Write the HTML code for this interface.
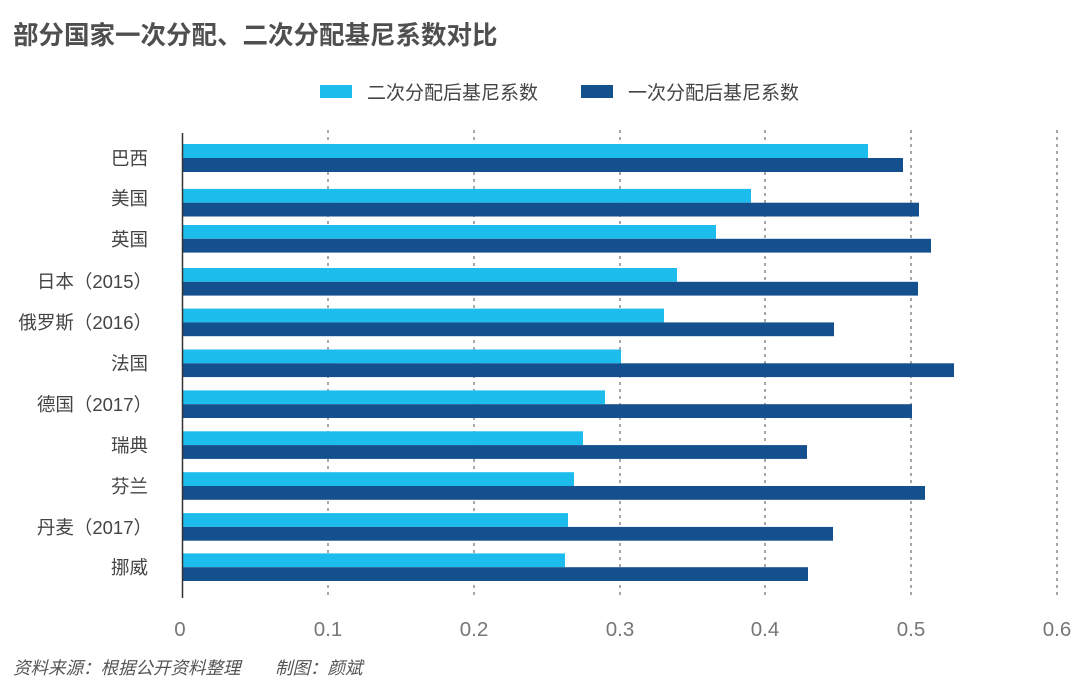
<!DOCTYPE html>
<html><head><meta charset="utf-8"><style>
html,body{margin:0;padding:0;background:#fff;}
svg{display:block;}
text{font-family:"Liberation Sans","Noto Sans CJK SC",sans-serif;}
</style></head><body>
<svg width="1080" height="690" viewBox="0 0 1080 690" xmlns="http://www.w3.org/2000/svg">
<rect width="1080" height="690" fill="#fff"/>
<text x="13" y="44" font-size="25.5" font-weight="bold" fill="#4f4f4f">部分国家一次分配、二次分配基尼系数对比</text>
<!-- legend -->
<rect x="320" y="85" width="32" height="13" fill="#1cbdec"/>
<text x="367" y="99" font-size="19" fill="#444">二次分配后基尼系数</text>
<rect x="581" y="85" width="32" height="13" fill="#14508e"/>
<text x="628" y="99" font-size="19" fill="#444">一次分配后基尼系数</text>
<!-- gridlines -->
<g stroke="#7a7a7a" stroke-width="1.3" stroke-dasharray="3,4">
<line x1="328" y1="130" x2="328" y2="598"/>
<line x1="474" y1="130" x2="474" y2="598"/>
<line x1="620" y1="130" x2="620" y2="598"/>
<line x1="765" y1="130" x2="765" y2="598"/>
<line x1="911" y1="130" x2="911" y2="598"/>
<line x1="1057" y1="130" x2="1057" y2="598"/>
</g>
<!-- bars -->
<g>
<rect x="182" y="144" width="686" height="14" fill="#1cbdec"/>
<rect x="182" y="158" width="721" height="14" fill="#14508e"/>
<rect x="182" y="188.9" width="569" height="13.8" fill="#1cbdec"/>
<rect x="182" y="202.7" width="737" height="13.8" fill="#14508e"/>
<rect x="182" y="225" width="534" height="13.8" fill="#1cbdec"/>
<rect x="182" y="238.8" width="749" height="13.8" fill="#14508e"/>
<rect x="182" y="268" width="495" height="13.8" fill="#1cbdec"/>
<rect x="182" y="281.8" width="736" height="13.8" fill="#14508e"/>
<rect x="182" y="308.6" width="482" height="13.8" fill="#1cbdec"/>
<rect x="182" y="322.4" width="652" height="13.8" fill="#14508e"/>
<rect x="182" y="349.5" width="439" height="13.8" fill="#1cbdec"/>
<rect x="182" y="363.3" width="772" height="13.8" fill="#14508e"/>
<rect x="182" y="390.4" width="423" height="13.8" fill="#1cbdec"/>
<rect x="182" y="404.2" width="730" height="13.8" fill="#14508e"/>
<rect x="182" y="431.3" width="401" height="13.8" fill="#1cbdec"/>
<rect x="182" y="445.1" width="625" height="13.8" fill="#14508e"/>
<rect x="182" y="472.2" width="392" height="13.8" fill="#1cbdec"/>
<rect x="182" y="486" width="743" height="13.8" fill="#14508e"/>
<rect x="182" y="513.1" width="386" height="13.8" fill="#1cbdec"/>
<rect x="182" y="526.9" width="651" height="13.8" fill="#14508e"/>
<rect x="182" y="553.4" width="383" height="13.8" fill="#1cbdec"/>
<rect x="182" y="567.2" width="626" height="13.8" fill="#14508e"/>
</g>
<line x1="182.5" y1="133" x2="182.5" y2="598" stroke="#333" stroke-width="1.5"/>
<!-- y labels -->
<g font-size="18.5" fill="#444" text-anchor="end">
<text x="148" y="165">巴西</text>
<text x="148" y="205">美国</text>
<text x="148" y="246">英国</text>
<text x="152" y="288">日本（2015）</text>
<text x="152" y="329">俄罗斯（2016）</text>
<text x="148" y="370">法国</text>
<text x="152" y="411">德国（2017）</text>
<text x="148" y="452">瑞典</text>
<text x="148" y="493">芬兰</text>
<text x="152" y="534">丹麦（2017）</text>
<text x="148" y="574">挪威</text>
</g>
<!-- x tick labels -->
<g font-size="20.5" fill="#777" text-anchor="middle">
<text x="180" y="636">0</text>
<text x="328" y="636">0.1</text>
<text x="474" y="636">0.2</text>
<text x="620" y="636">0.3</text>
<text x="765" y="636">0.4</text>
<text x="911" y="636">0.5</text>
<text x="1057" y="636">0.6</text>
</g>
<text x="13" y="674" font-size="17.5" font-style="italic" fill="#555">资料来源：根据公开资料整理</text>
<text x="275" y="674" font-size="17.5" font-style="italic" fill="#555">制图：颜斌</text>
</svg>
</body></html>
